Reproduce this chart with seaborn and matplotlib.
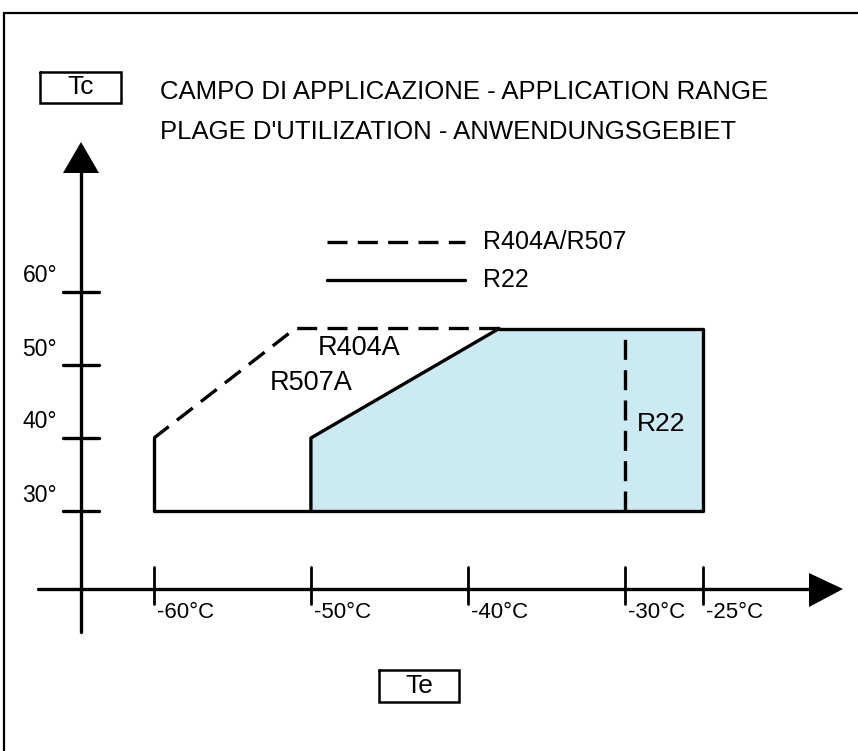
import matplotlib
matplotlib.use("Agg")
import matplotlib.pyplot as plt
import seaborn as sns
import pandas as pd

sns.set_theme(style="white")
plt.rcParams['font.family'] = ['Liberation Sans', 'DejaVu Sans']
plt.rcParams['text.color'] = 'black'

# ---------------- data ----------------
te_ticks = [-60, -50, -40, -30, -25]
te_labels = ["-60°C", "-50°C", "-40°C", "-30°C", "-25°C"]
tc_ticks = [30, 40, 50, 60]
tc_labels = ["30°", "40°", "50°", "60°"]

# R404A / R507 envelope
r404_solid_te = [-60, -60, -25, -25, -38]
r404_solid_tc = [40, 30, 30, 55, 55]
r404_dash_te = [-38, -51, -60]
r404_dash_tc = [55, 55, 40]

# R22 envelope (filled)
r22_te = [-50, -50, -38, -25, -25]
r22_tc = [30, 40, 55, 55, 30]
r22_edge_te = [-50, -50, -38]
r22_edge_tc = [30, 40, 55]
r22_limit_te = [-30, -30]
r22_limit_tc = [30, 55]

title1 = "CAMPO DI APPLICAZIONE - APPLICATION RANGE"
title2 = "PLAGE D'UTILIZATION - ANWENDUNGSGEBIET"
legend_labels = ["R404A/R507", "R22"]

# ---------------- layout ----------------
W, H = 858, 751
fig = plt.figure(figsize=(W / 100, H / 100), dpi=100)
ax = fig.add_axes([0, 0, 1, 1])
PX_TE, PX_TC = 15.69, 7.3          # pixels per degree
X60, Y30 = 154, 511                # pixel of Te=-60, Tc=30
ax.set_xlim(-60 - X60 / PX_TE, -60 + (W - X60) / PX_TE)
ax.set_ylim(30 - (H - Y30) / PX_TC, 30 + Y30 / PX_TC)
ax.axis("off")


def te(px):
    return -60 + (px - X60) / PX_TE


def tc(py):
    return 30 + (Y30 - py) / PX_TC


def fx(px):
    return px / W


def fy(py):
    return 1 - py / H


LW = 2.4
DASH = (0, (6.0, 3.1))
fill_color = "#cbeaf1"

# fill of R22 region
ax.fill(r22_te, r22_tc, color=fill_color, lw=0, zorder=1)


def line(xs, ys, ls="-", lw=LW):
    df = pd.DataFrame({"te": xs, "tc": ys})
    sns.lineplot(data=df, x="te", y="tc", sort=False, estimator=None,
                 color="black", lw=lw, linestyle=ls, ax=ax, zorder=3)


line(r404_solid_te, r404_solid_tc)
line(r404_dash_te, r404_dash_tc, ls=DASH)
line(r22_edge_te, r22_edge_tc)
line(r22_limit_te, r22_limit_tc, ls=DASH)

# axes (drawn manually)
ax_te0 = te(81)
ax_tc0 = tc(589)
line([te(38), te(810)], [ax_tc0, ax_tc0], lw=2.4)
line([ax_te0, ax_te0], [tc(632), tc(172)], lw=2.4)
ax.fill([te(809), te(843), te(809)], [tc(573), ax_tc0, tc(607)], color="black", lw=0, zorder=4)
ax.fill([te(63), ax_te0, te(99)], [tc(173), tc(142), tc(173)], color="black", lw=0, zorder=4)

for v, lab in zip(te_ticks, te_labels):
    ax.plot([v, v], [tc(567), tc(604)], color="black", lw=2.0, zorder=3)
    ax.text(v + 3 / PX_TE, tc(613), lab, fontsize=16, ha="left", va="center", zorder=5)
for v, lab in zip(tc_ticks, tc_labels):
    ax.plot([te(63), te(99)], [v, v], color="black", lw=2.4, zorder=3)
    ax.text(te(57), v + 16 / PX_TC, lab, fontsize=16.5, ha="right", va="center", zorder=5)

# legend
leg_y = [tc(242), tc(280)]
ax.plot([te(327), te(465)], [leg_y[0]] * 2, color="black", lw=LW, linestyle=DASH)
ax.plot([te(327), te(465)], [leg_y[1]] * 2, color="black", lw=LW)
ax.text(te(483), leg_y[0], legend_labels[0], fontsize=18, ha="left", va="center")
ax.text(te(483), leg_y[1], legend_labels[1], fontsize=18, ha="left", va="center")

# region labels
ax.text(te(318), tc(348), "R404A", fontsize=19.5, ha="left", va="center", zorder=5)
ax.text(te(270), tc(383), "R507A", fontsize=19.5, ha="left", va="center", zorder=5)
ax.text(te(637), tc(424), "R22", fontsize=19, ha="left", va="center", zorder=5)

# titles
ax.text(fx(160), fy(92), title1, fontsize=18.5, ha="left", va="center", transform=ax.transAxes)
ax.text(fx(160), fy(132), title2, fontsize=18.5, ha="left", va="center", transform=ax.transAxes)

# axis name boxes
for (x0, y0, x1, y1, lab) in [(40, 72, 121, 103, "Tc"), (379, 670, 459, 702, "Te")]:
    ax.plot([fx(x0), fx(x1), fx(x1), fx(x0), fx(x0)],
            [fy(y0), fy(y0), fy(y1), fy(y1), fy(y0)],
            color="black", lw=1.8, transform=ax.transAxes, solid_joinstyle="miter")
    ax.text(fx((x0 + x1) / 2), fy((y0 + y1) / 2), lab, fontsize=19, ha="center", va="center",
            transform=ax.transAxes)

# page border (top and left)
ax.plot([fx(4), fx(4), fx(W)], [fy(H), fy(13), fy(13)], color="black", lw=1.6,
        transform=ax.transAxes, solid_joinstyle="miter")

fig.savefig("out.png", dpi=100, facecolor="white")
